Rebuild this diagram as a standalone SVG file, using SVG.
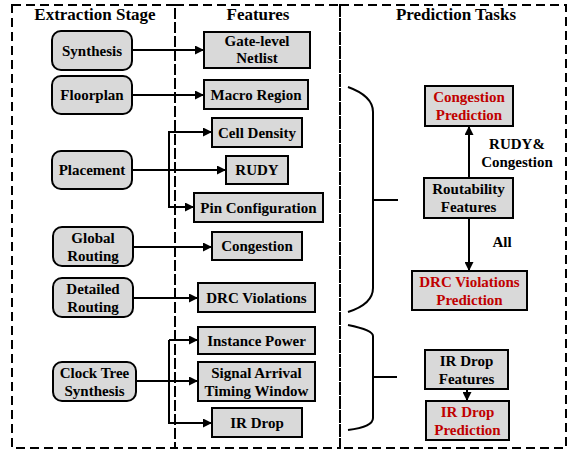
<svg xmlns="http://www.w3.org/2000/svg" width="568" height="456" viewBox="0 0 568 456">
<style>
.col{fill:none;stroke:#000;stroke-width:2;stroke-dasharray:9,5}
.t{font-family:"Liberation Serif","Times New Roman",serif;font-weight:bold;font-size:15px;text-anchor:middle;fill:#000}
.h{font-size:17px}
.red{fill:#c00000}
.rn{fill:#d9d9d9;stroke:#000;stroke-width:2}
.bx{fill:#d9d9d9;stroke:#000;stroke-width:2}
.ln{fill:none;stroke:#000;stroke-width:2}
</style>
<defs>
<marker id="ah" viewBox="0 0 10 10" refX="10" refY="5" markerWidth="4.5" markerHeight="4.5" orient="auto" markerUnits="strokeWidth">
<path d="M0,0 L10,5 L0,10 z" fill="#000"/>
</marker>
</defs>
<rect width="568" height="456" fill="#fff"/>
<g id="columns">
<rect class="col" x="12" y="5" width="163" height="443"/>
<rect class="col" x="175" y="5" width="165" height="443"/>
<rect class="col" x="340" y="5" width="226" height="443"/>
<text class="t h" x="95" y="20">Extraction Stage</text>
<text class="t h" x="258" y="20">Features</text>
<text class="t h" x="456" y="20">Prediction Tasks</text>
</g>
<g id="connectors">
<line class="ln" x1="132" y1="50" x2="204" y2="50" marker-end="url(#ah)"/>
<line class="ln" x1="132" y1="95" x2="204" y2="95" marker-end="url(#ah)"/>
<line class="ln" x1="132" y1="170" x2="226" y2="170" marker-end="url(#ah)"/>
<path class="ln" d="M212,132 H169 V207 H194" marker-end="url(#ah)"/>
<path class="ln" d="M169,132 H212" marker-end="url(#ah)"/>
<line class="ln" x1="133" y1="247" x2="212" y2="247" marker-end="url(#ah)"/>
<line class="ln" x1="133" y1="298" x2="198" y2="298" marker-end="url(#ah)"/>
<line class="ln" x1="136" y1="381" x2="198" y2="381" marker-end="url(#ah)"/>
<path class="ln" d="M169,340 V423 H212" marker-end="url(#ah)"/>
<path class="ln" d="M169,340 H198" marker-end="url(#ah)"/>
<line class="ln" x1="469" y1="178" x2="469" y2="126" marker-end="url(#ah)"/>
<line class="ln" x1="469" y1="218" x2="469" y2="271" marker-end="url(#ah)"/>
<line class="ln" x1="467" y1="389" x2="467" y2="401" marker-end="url(#ah)"/>
<path class="ln" d="M348,87 Q373,96 373,112 V288 Q373,304 348,312"/>
<line class="ln" x1="373" y1="200" x2="398" y2="200"/>
<path class="ln" d="M348,325 Q373,330 373,336 V418 Q373,427 348,430"/>
<line class="ln" x1="373" y1="377" x2="397" y2="377"/>
<text class="t" x="517" y="149">RUDY&amp;</text>
<text class="t" x="517" y="167">Congestion</text>
<text class="t" x="502" y="247">All</text>
</g>
<g id="synthesis"><rect class="rn" x="52" y="31" width="80" height="39" rx="9"/><text class="t" x="92" y="56">Synthesis</text></g>
<g id="floorplan"><rect class="rn" x="52" y="76" width="80" height="38" rx="9"/><text class="t" x="92" y="100">Floorplan</text></g>
<g id="placement"><rect class="rn" x="52" y="151" width="80" height="38" rx="9"/><text class="t" x="92" y="175">Placement</text></g>
<g id="global-routing"><rect class="rn" x="53" y="227" width="80" height="39" rx="9"/><text class="t" x="93" y="243">Global</text><text class="t" x="93" y="261">Routing</text></g>
<g id="detailed-routing"><rect class="rn" x="53" y="278" width="80" height="39" rx="9"/><text class="t" x="93" y="294">Detailed</text><text class="t" x="93" y="312">Routing</text></g>
<g id="clock-tree-synthesis"><rect class="rn" x="53" y="362" width="83" height="39" rx="9"/><text class="t" x="94.5" y="378">Clock Tree</text><text class="t" x="94.5" y="396">Synthesis</text></g>
<g id="gate-level-netlist"><rect class="bx" x="204" y="32" width="106" height="36"/><text class="t" x="257" y="46">Gate-level</text><text class="t" x="257" y="63">Netlist</text></g>
<g id="macro-region"><rect class="bx" x="204" y="80" width="104" height="29"/><text class="t" x="256" y="100">Macro Region</text></g>
<g id="cell-density"><rect class="bx" x="212" y="118" width="90" height="29"/><text class="t" x="257" y="138">Cell Density</text></g>
<g id="rudy"><rect class="bx" x="226" y="156" width="62" height="28"/><text class="t" x="257" y="175">RUDY</text></g>
<g id="pin-configuration"><rect class="bx" x="194" y="193" width="129" height="29"/><text class="t" x="258.5" y="213">Pin Configuration</text></g>
<g id="congestion"><rect class="bx" x="212" y="232" width="90" height="28"/><text class="t" x="257" y="251">Congestion</text></g>
<g id="drc-violations"><rect class="bx" x="198" y="283" width="117" height="29"/><text class="t" x="256.5" y="303">DRC Violations</text></g>
<g id="instance-power"><rect class="bx" x="198" y="327" width="117" height="27"/><text class="t" x="256.5" y="346">Instance Power</text></g>
<g id="signal-arrival-timing-window"><rect class="bx" x="198" y="362" width="117" height="39"/><text class="t" x="256.5" y="378">Signal Arrival</text><text class="t" x="256.5" y="396">Timing Window</text></g>
<g id="ir-drop"><rect class="bx" x="212" y="408" width="90" height="29"/><text class="t" x="257" y="428">IR Drop</text></g>
<g id="congestion-prediction"><rect class="bx" x="425" y="86" width="88" height="40"/><text class="t red" x="469" y="102">Congestion</text><text class="t red" x="469" y="120">Prediction</text></g>
<g id="routability-features"><rect class="bx" x="424" y="178" width="89" height="40"/><text class="t" x="468.5" y="194">Routability</text><text class="t" x="468.5" y="212">Features</text></g>
<g id="drc-violations-prediction"><rect class="bx" x="412" y="271" width="115" height="39"/><text class="t red" x="469.5" y="287">DRC Violations</text><text class="t red" x="469.5" y="305">Prediction</text></g>
<g id="ir-drop-features"><rect class="bx" x="425" y="350" width="83" height="39"/><text class="t" x="466.5" y="366">IR Drop</text><text class="t" x="466.5" y="384">Features</text></g>
<g id="ir-drop-prediction"><rect class="bx" x="426" y="401" width="83" height="39"/><text class="t red" x="467.5" y="417">IR Drop</text><text class="t red" x="467.5" y="435">Prediction</text></g>
</svg>
